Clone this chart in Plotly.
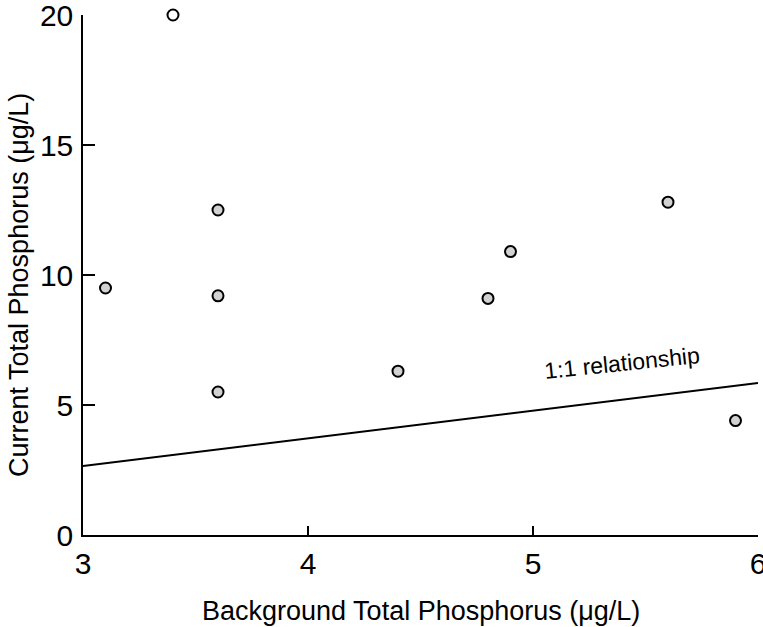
import plotly.graph_objects as go

# Data
background_tp = [3.1, 3.4, 3.6, 3.6, 3.6, 4.4, 4.8, 4.9, 5.6, 5.9]
current_tp = [9.5, 20.0, 12.5, 9.2, 5.5, 6.3, 9.1, 10.9, 12.8, 4.4]
line_x = [3.0, 6.0]
line_y = [2.65, 5.85]
x_ticks = [3, 4, 5, 6]
y_ticks = [0, 5, 10, 15, 20]

FONT = "Liberation Sans, Arial, Helvetica, sans-serif"

fill_colors = ["#ffffff" if v >= 20 else "#d2d2d2" for v in current_tp]

fig = go.Figure()
fig.add_trace(go.Scatter(
    x=line_x, y=line_y, mode="lines",
    line=dict(color="black", width=2),
    hoverinfo="skip", showlegend=False,
))
fig.add_trace(go.Scatter(
    x=background_tp, y=current_tp, mode="markers",
    marker=dict(size=11, color=fill_colors, line=dict(color="black", width=2)),
    cliponaxis=False, showlegend=False,
))

fig.add_annotation(
    x=(622 - 83) / 675, y=(535 - 363) / 520, xref="paper", yref="paper",
    text="1:1 relationship", showarrow=False, textangle=-6,
    xanchor="center", yanchor="middle",
    font=dict(family=FONT, size=23, color="black"),
)
fig.add_annotation(
    x=(19 - 83) / 675, y=(535 - 285) / 520, xref="paper", yref="paper",
    text="Current Total Phosphorus (μg/L)", showarrow=False, textangle=-90,
    xanchor="center", yanchor="middle",
    font=dict(family=FONT, size=27, color="black"),
)
fig.add_annotation(
    x=0.5, y=(535 - 611) / 520, xref="paper", yref="paper",
    text="Background Total Phosphorus (μg/L)", showarrow=False,
    xanchor="center", yanchor="middle",
    font=dict(family=FONT, size=27, color="black"),
)

fig.update_layout(
    width=763, height=627,
    margin=dict(l=83, r=5, t=15, b=92, autoexpand=False),
    paper_bgcolor="white", plot_bgcolor="white",
    font=dict(family=FONT, color="black"),
    xaxis=dict(
        range=[3, 6], tickvals=x_ticks, ticktext=[str(v) for v in x_ticks],
        showgrid=False, zeroline=False, showline=True, linecolor="black", linewidth=2,
        ticks="inside", ticklen=9, tickwidth=1.5, tickcolor="black",
        tickfont=dict(family=FONT, size=30, color="black"),
        ticklabelstandoff=1, ticklabeloverflow="allow", automargin=False,
    ),
    yaxis=dict(
        range=[0, 20], tickvals=y_ticks, ticktext=[str(v) for v in y_ticks],
        showgrid=False, zeroline=False, showline=True, linecolor="black", linewidth=1.5,
        ticks="inside", ticklen=12, tickwidth=1.5, tickcolor="black",
        tickfont=dict(family=FONT, size=30, color="black"),
        ticklabelstandoff=2, ticklabeloverflow="allow", automargin=False,
    ),
)

fig.write_html("out.html")
